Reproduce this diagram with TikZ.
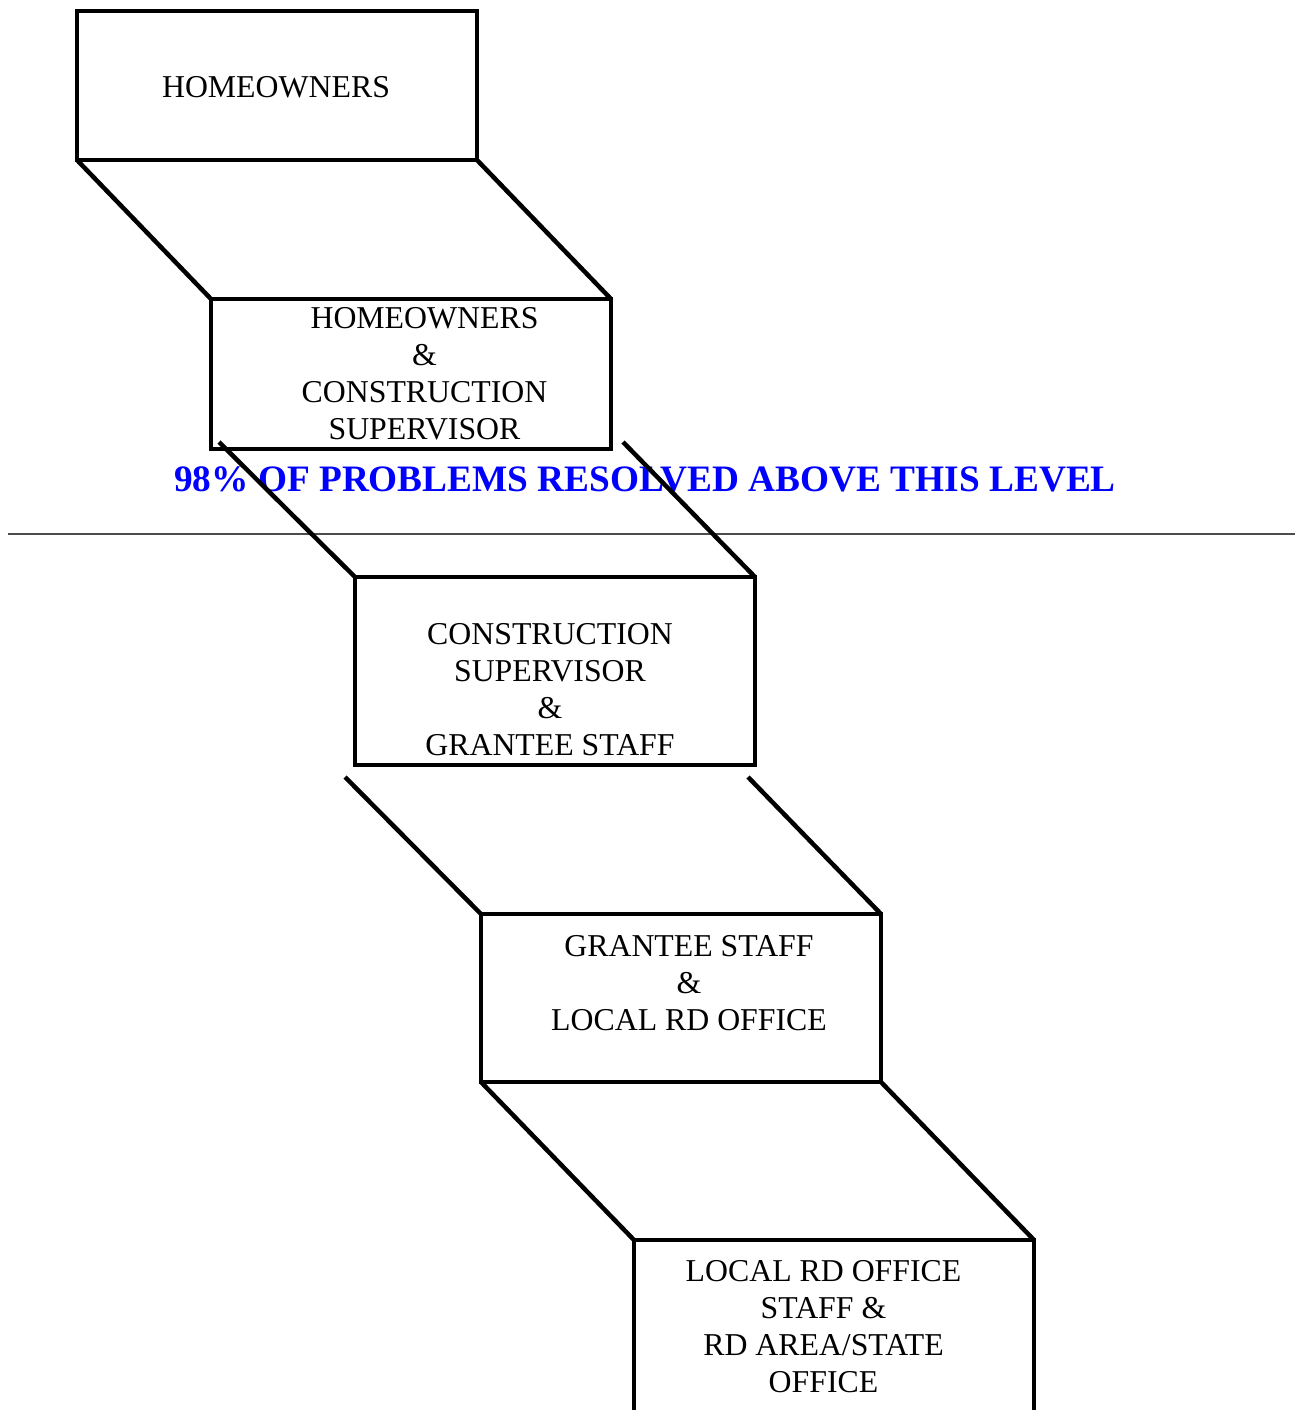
\documentclass[tikz,border=0pt]{standalone}
\usepackage{fontspec}
\setmainfont{Liberation Serif}
\begin{document}
\begin{tikzpicture}[x=1pt,y=-1pt,
  stepbox/.style={draw, line width=4.5pt, rectangle, minimum width=400pt, outer sep=0pt, inner sep=0pt, anchor=north west},
  lbl/.style={font=\fontsize{31.8}{37}\selectfont, align=center, inner sep=0pt, anchor=north},
  link/.style={line width=4.5pt},
  rule/.style={line width=1.5pt, black!70},
  note/.style={font=\fontsize{37.3}{40}\selectfont\bfseries, text=blue, anchor=base, inner sep=0pt}
]
\useasboundingbox (0,0) rectangle (1296,1410);
\clip (0,0) rectangle (1296,1410);
% boxes
\node[stepbox, minimum height=149pt] (b1) at (77,11) {};
\node[stepbox, minimum height=150pt] (b2) at (211,299) {};
\node[stepbox, minimum height=188pt] (b3) at (355,577) {};
\node[stepbox, minimum height=168pt] (b4) at (481,914) {};
\node[stepbox, minimum height=220pt] (b5) at (634,1240) {};
% labels
\node[lbl] (t1) at (276,76.5) {HOMEOWNERS};
\node[lbl] (t2) at (424.5,307.5) {HOMEOWNERS\\\&\\CONSTRUCTION\\SUPERVISOR};
\node[lbl] (t3) at (550,623.5) {CONSTRUCTION\\SUPERVISOR\\\&\\GRANTEE STAFF};
\node[lbl] (t4) at (689,935.5) {GRANTEE STAFF\\\&\\LOCAL RD OFFICE};
\node[lbl] (t5) at (823.5,1260.5) {LOCAL RD OFFICE\\STAFF \&\\RD AREA/STATE\\OFFICE};
% note and rule
\node[note] (n) at (645,491) {98\% OF PROBLEMS RESOLVED ABOVE THIS LEVEL};
\coordinate (hl) at (8,534);
\coordinate (hr) at (1295,534);
\draw[rule] (hl) -- (hr);
% connectors
\coordinate (c2l) at (219,442);
\coordinate (c2r) at (623,442);
\coordinate (c3l) at (345,777);
\coordinate (c3r) at (748,777);
\draw[link] (b1.south west) -- (b2.north west);
\draw[link] (b1.south east) -- (b2.north east);
\draw[link] (c2l) -- (b3.north west);
\draw[link] (c2r) -- (b3.north east);
\draw[link] (c3l) -- (b4.north west);
\draw[link] (c3r) -- (b4.north east);
\draw[link] (b4.south west) -- (b5.north west);
\draw[link] (b4.south east) -- (b5.north east);
\end{tikzpicture}
\end{document}
